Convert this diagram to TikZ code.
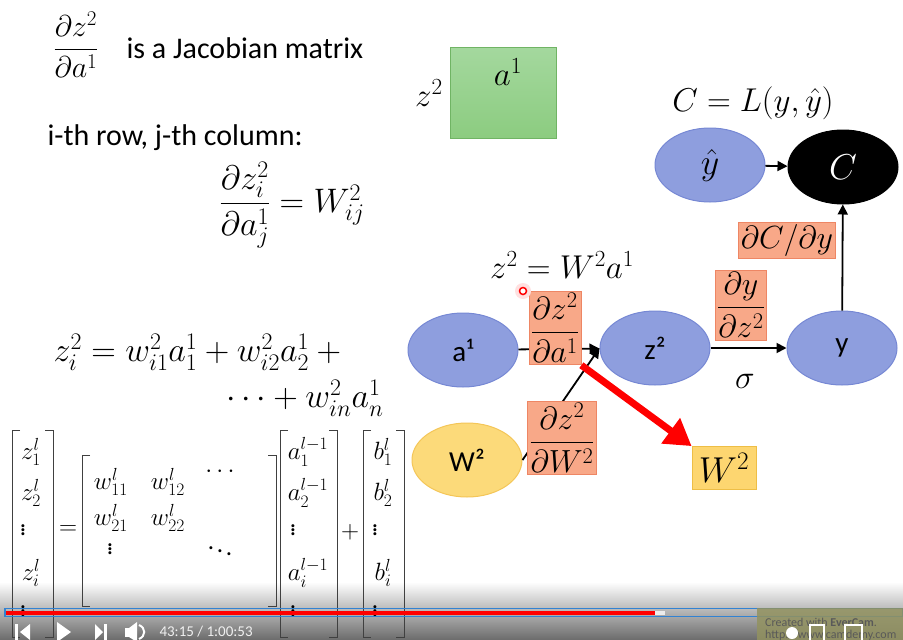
\RequirePackage{fix-cm}
\documentclass[tikz,border=0pt]{standalone}
\usepackage{amsmath}
\usepackage{fontspec}
\setmainfont{Carlito}
\usetikzlibrary{arrows.meta,positioning,shapes.geometric}
\definecolor{nodeblue}{RGB}{142,158,222}
\definecolor{nodeblueline}{RGB}{118,136,212}
\definecolor{salmon}{RGB}{248,168,136}
\definecolor{salmonline}{RGB}{238,134,100}
\definecolor{wyellow}{RGB}{252,218,122}
\definecolor{wyellowline}{RGB}{244,198,88}
\definecolor{boxyellow}{RGB}{253,214,112}
\definecolor{boxyellowline}{RGB}{238,190,70}
\definecolor{jgreen}{RGB}{140,204,128}
\definecolor{jgreenlight}{RGB}{164,216,158}
\definecolor{jgreenline}{RGB}{112,180,100}
\definecolor{barblue}{RGB}{50,130,210}
\definecolor{evercam}{RGB}{146,146,96}
\begin{document}
\begin{tikzpicture}[x=1pt,y=-1pt,
big/.style={font=\fontsize{30}{36}\selectfont},
bigmath/.style={font=\fontsize{34}{40}\selectfont},
mid/.style={font=\fontsize{33}{39}\selectfont},
mat/.style={font=\fontsize{25}{29}\selectfont,inner sep=0.5pt},
neuron/.style={ellipse,draw=nodeblueline,fill=nodeblue,line width=1pt,
  minimum width=110pt,minimum height=74pt,font=\fontsize{29}{34}\selectfont},
weight/.style={neuron,draw=wyellowline,fill=wyellow},
grad/.style={draw=salmonline,fill=salmon,line width=0.8pt,inner sep=2pt,
  font=\fontsize{32}{38}\selectfont},
flow/.style={-{Triangle[length=10pt,width=10pt]},line width=1.8pt},
bracket/.style={line width=0.9pt,draw=black!75}]
\useasboundingbox (0,0) rectangle (903,640);
\fill[white] (0,0) rectangle (903,640);

% left column
\node[big] (jacfrac) at (76,45) {$\dfrac{\partial z^2}{\partial a^1}$};
\node[big,anchor=west] (jactext) at (123,48) {is a Jacobian matrix};
\node[big,anchor=west] (rowcol) at (44,138) {i-th row, j-th column:};
\node[bigmath] (elem) at (292,205) {$\dfrac{\partial z_i^2}{\partial a_j^1} = W_{ij}^2$};
\node[bigmath,anchor=west] (sum1) at (50,352) {$z_i^2 = w_{i1}^2 a_1^1 + w_{i2}^2 a_2^1 + {}$};
\node[bigmath,anchor=east] (sum2) at (387,398) {$\cdots + w_{in}^2 a_n^1$};

% player shade behind matrix
\shade[top color=white,bottom color=black!58] (0,582) rectangle (903,640);

% matrix equation
\draw[bracket] (20,430) -- (12,430) -- (12,637) -- (20,637);
\draw[bracket] (45,430) -- (53,430) -- (53,637) -- (45,637);
\node[mat] (z1) at (31,452) {$z_1^l$};
\node[mat] (z2l) at (31,493) {$z_2^l$};
\node[mat] (zd1) at (23,527) {$\vdots$};
\node[mat] (zi) at (31,573) {$z_i^l$};
\node[mat] (zd2) at (23,608) {$\vdots$};
\node[mat] (eq) at (68,530) {$=$};
\draw[bracket] (90,455) -- (82,455) -- (82,606) -- (90,606);
\draw[bracket] (268,455) -- (276,455) -- (276,606) -- (268,606);
\node[mat] (w11) at (111,482) {$w_{11}^l$};
\node[mat] (w12) at (168,482) {$w_{12}^l$};
\node[mat] (wc) at (222,472) {$\cdots$};
\node[mat] (w21) at (111,518) {$w_{21}^l$};
\node[mat] (w22) at (168,518) {$w_{22}^l$};
\node[mat] (wd) at (110,546) {$\vdots$};
\node[mat] (wdd) at (220,548) {$\ddots$};
\draw[bracket] (288,430) -- (280,430) -- (280,637) -- (288,637);
\draw[bracket] (329,430) -- (337,430) -- (337,637) -- (329,637);
\node[mat] (a1l) at (308,452) {$a_1^{l-1}$};
\node[mat] (a2l) at (308,493) {$a_2^{l-1}$};
\node[mat] (ad1) at (293,527) {$\vdots$};
\node[mat] (ail) at (308,573) {$a_i^{l-1}$};
\node[mat] (ad2) at (293,608) {$\vdots$};
\node[mat] (plus) at (350,532) {$+$};
\draw[bracket] (371,430) -- (363,430) -- (363,637) -- (371,637);
\draw[bracket] (396,430) -- (404,430) -- (404,637) -- (396,637);
\node[mat] (b1) at (383,452) {$b_1^l$};
\node[mat] (b2) at (383,493) {$b_2^l$};
\node[mat] (bd1) at (375,527) {$\vdots$};
\node[mat] (bi) at (383,573) {$b_i^l$};
\node[mat] (bd2) at (375,608) {$\vdots$};

% Jacobian block
\shade[top color=jgreenlight,bottom color=jgreen,draw=jgreenline,line width=0.8pt]
  (450,47) rectangle (556,138);
\node[mid] (jaca) at (508,72) {$a^1$};
\node[mid] (jacz) at (429,93) {$z^2$};

% graph
\node[mid] (loss) at (753,103) {$C = L(y,\hat{y})$};
\node[neuron,font=\fontsize{36}{42}\selectfont] (yhat) at (710,165) {$\hat{y}$};
\node[neuron,draw=black,fill=black,text=white,font=\fontsize{36}{42}\selectfont] (C) at (843,167) {$C$};
\node[mid] (model) at (562,265) {$z^2 = W^2 a^1$};
\node[neuron] (a1) at (463,350) {a¹};
\node[neuron] (z2) at (655,348) {z²};
\node[neuron] (y) at (842,348) {y};
\node[weight] (W2) at (467,460) {W²};
\node[mid] (sigma) at (745,381) {$\sigma$};

\draw[flow] (yhat) -- (C);
\draw[flow] (y) -- (C);
\draw[flow] (a1) -- (z2);
\draw[flow] (W2.east) -- (z2.west);
\draw[flow] (z2) -- (y);

\node[grad] (dCdy) at (787,240) {$\partial C/\partial y$};
\node[grad] (dz2da1) at (555,328) {$\dfrac{\partial z^2}{\partial a^1}$};
\node[grad] (dydz2) at (741,305) {$\dfrac{\partial y}{\partial z^2}$};
\node[grad] (dz2dW2) at (562,438) {$\dfrac{\partial z^2}{\partial W^2}$};
\node[draw=boxyellowline,fill=boxyellow,line width=0.8pt,minimum width=64pt,
  minimum height=43pt,font=\fontsize{36}{42}\selectfont] (W2box) at (724,468) {$W^2$};
\draw[red,line width=7pt,-{Triangle[length=26pt,width=30pt]}]
  (dz2da1.south east) -- (W2box.north west);

% pointer
\fill[red!12] (523,291) circle (8);
\draw[red,line width=1.5pt,fill=white] (523,291) circle (3.5);

% player bar
\draw[barblue,line width=1.2pt] (5,608.5) rectangle (903,616.5);
\fill[red] (6,610.5) rectangle (655,614.5);
\fill[white!85!gray] (655,610.5) rectangle (665,614.5);
\fill[white] (15,624) rectangle (18,640);
\fill[white] (30,624) -- (20,632) -- (30,640) -- cycle;
\fill[white] (57,622) -- (71,632) -- (57,642) -- cycle;
\fill[white] (95,624) -- (103,632) -- (95,640) -- cycle;
\fill[white] (104,624) rectangle (107,640);
\fill[white] (125,628) rectangle (130,637);
\fill[white] (129,628) -- (137,622) -- (137,642) -- (129,637) -- cycle;
\draw[white,line width=2pt] (139,625) .. controls (146,628) and (146,636) .. (139,639);
\node[anchor=west,text=white!88!gray,font=\fontsize{15}{17}\selectfont] (time) at (156,632) {43:15 / 1:00:53};
\fill[evercam,opacity=0.85] (757,608) rectangle (903,640);
\node[anchor=west,text=black!65,font=\fontsize{12}{14}\selectfont,inner sep=1pt] (ecline1) at (764,622) {Created with \textbf{EverCam}.};
\node[anchor=west,text=black!65,font=\fontsize{12}{14}\selectfont,inner sep=1pt] (ecline2) at (764,635) {http://www.camdemy.com};
\fill[white] (792,633) circle (6);
\draw[white,line width=1.8pt] (810,625) rectangle (824,641);
\draw[white,line width=1.8pt] (845,625) rectangle (862,641);
\end{tikzpicture}
\end{document}
